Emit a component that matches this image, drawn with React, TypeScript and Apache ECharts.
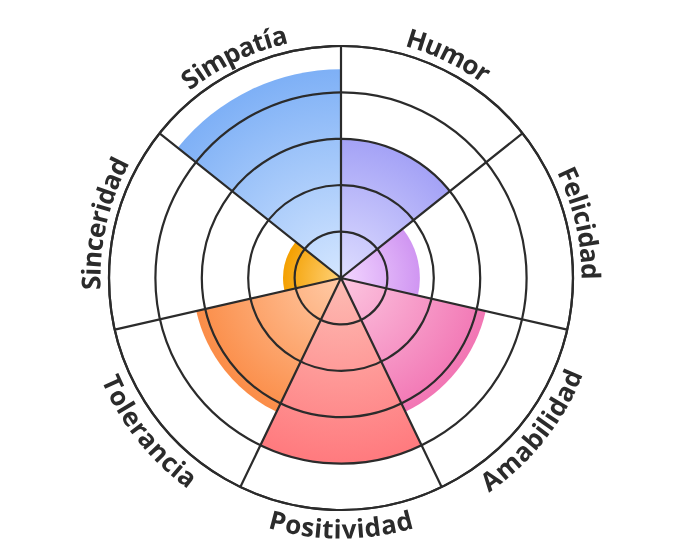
import React, { useEffect, useRef } from 'react';
import * as echarts from 'echarts';

const categories = ['Humor', 'Felicidad', 'Amabilidad', 'Positividad', 'Tolerancia', 'Sinceridad', 'Simpatía'];
const values = [60, 34, 64, 80, 64, 25, 90];
const innerColors = ['#deddff', '#f3d6ff', '#fcc6e0', '#fdbcb4', '#ffcaa6', '#ffd27a', '#d4e6ff'];
const outerColors = ['#a4a2f6', '#d096f2', '#f276b4', '#ff7a7e', '#fb8d48', '#f4a000', '#7eb0f6'];
const radiusMin = 0;
const radiusMax = 100;
const radiusInterval = 20;
const labelRadiusValue = 108;

const CX = 341;
const CY = 278;
const RADIUS = 232;
const FONT_SIZE = 26;
const FONT_FAMILY = '"Open Sans", "Noto Sans", sans-serif';
const TEXT_COLOR = '#2b2b2b';
const LINE_COLOR = '#2b2b2b';

export default function App() {
  const ref = useRef<HTMLDivElement>(null);

  useEffect(() => {
    if (!ref.current) return;
    const chart = echarts.init(ref.current, null, { renderer: 'svg' });

    const canvas = document.createElement('canvas');
    const ctx = canvas.getContext('2d')!;
    ctx.font = `bold ${FONT_SIZE}px ${FONT_FAMILY}`;
    const measure = (s: string) => ctx.measureText(s).width;

    const barData = values.map((v, i) => ({
      value: v,
      itemStyle: {
        color: {
          type: 'radial',
          x: CX,
          y: CY,
          r: (RADIUS * v) / radiusMax,
          global: true,
          colorStops: [
            { offset: 0, color: innerColors[i] },
            { offset: 1, color: outerColors[i] },
          ],
        },
      },
    }));

    const labelData = categories.map((_, i) => [labelRadiusValue, i]);

    chart.setOption({
      animation: false,
      polar: { center: [CX, CY], radius: RADIUS },
      angleAxis: {
        type: 'category',
        data: categories,
        startAngle: 90,
        clockwise: true,
        boundaryGap: true,
        z: 10,
        axisLine: { show: true, lineStyle: { color: LINE_COLOR, width: 2.2 } },
        axisTick: { show: false },
        axisLabel: { show: false },
        splitLine: { show: true, lineStyle: { color: LINE_COLOR, width: 2.2 } },
      },
      radiusAxis: {
        type: 'value',
        min: radiusMin,
        max: radiusMax,
        interval: radiusInterval,
        z: 10,
        axisLine: { show: false },
        axisTick: { show: false },
        axisLabel: { show: false },
        splitLine: { show: true, lineStyle: { color: LINE_COLOR, width: 2.2 } },
      },
      series: [
        {
          type: 'bar',
          coordinateSystem: 'polar',
          data: barData,
          barCategoryGap: '0%',
          z: 1,
        },
        {
          type: 'custom',
          coordinateSystem: 'polar',
          clip: false,
          z: 12,
          data: labelData,
          renderItem: (params: any, api: any) => {
            const idx = api.value(1) as number;
            const c = api.coord([0, idx]);
            const p = api.coord([api.value(0), idx]);
            const dx = p[0] - c[0];
            const dy = p[1] - c[1];
            const rad = Math.hypot(dx, dy);
            const theta = Math.atan2(dy, dx);
            const flip = Math.sin(theta) > 0;
            const chars = Array.from(categories[idx]);
            const widths = chars.map((ch) => measure(ch));
            const total = widths.reduce((a, b) => a + b, 0);
            let s = 0;
            const children = chars.map((ch, k) => {
              const mid = s + widths[k] / 2;
              s += widths[k];
              const off = (mid - total / 2) / rad;
              const t = flip ? theta - off : theta + off;
              const x = c[0] + rad * Math.cos(t);
              const y = c[1] + rad * Math.sin(t);
              const alpha = flip ? t - Math.PI / 2 : t + Math.PI / 2;
              return {
                type: 'text',
                x,
                y,
                rotation: -alpha,
                style: {
                  text: ch,
                  fill: TEXT_COLOR,
                  fontSize: FONT_SIZE,
                  fontWeight: 'bold',
                  fontFamily: FONT_FAMILY,
                  align: 'center',
                  verticalAlign: 'middle',
                },
              };
            });
            return { type: 'group', children };
          },
        },
      ],
    });

    return () => chart.dispose();
  }, []);

  return (
    <div
      ref={ref}
      style={{ position: 'fixed', left: 0, top: 0, width: 680, height: 557 }}
    />
  );
}
